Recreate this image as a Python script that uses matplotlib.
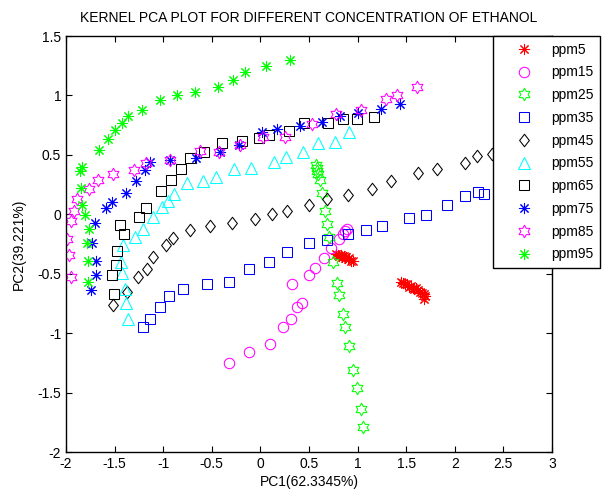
import matplotlib
matplotlib.use("Agg")
import matplotlib.pyplot as plt
import matplotlib.path as mpath
import numpy as np

plt.rcParams["font.family"] = ["Liberation Sans", "DejaVu Sans"]

# valors llegits de la figura original (PC1, PC2)
ppm5_x = [0.78, 0.80, 0.81, 0.83, 0.84, 0.86, 0.87, 0.88, 0.90, 0.91, 0.93, 0.95,
          1.45, 1.47, 1.49, 1.51, 1.53, 1.55, 1.57, 1.58, 1.60, 1.62, 1.64, 1.66,
          1.68, 1.69, 1.68]
ppm5_y = [-0.33, -0.34, -0.35, -0.34, -0.36, -0.35, -0.37, -0.36, -0.38, -0.37,
          -0.39, -0.39,
          -0.57, -0.58, -0.59, -0.59, -0.61, -0.60, -0.62, -0.63, -0.62, -0.64,
          -0.65, -0.66, -0.67, -0.69, -0.71]

ppm15_x = [-0.32, -0.12, 0.10, 0.23, 0.31, 0.38, 0.43, 0.32, 0.50, 0.56, 0.65,
           0.73, 0.81, 0.85, 0.87, 0.89]
ppm15_y = [-1.25, -1.16, -1.09, -0.95, -0.88, -0.78, -0.75, -0.59, -0.51, -0.45,
           -0.37, -0.28, -0.21, -0.17, -0.14, -0.12]

ppm25_x = [0.575, 0.58, 0.585, 0.59, 0.61, 0.63, 0.665, 0.69, 0.71, 0.75, 0.79,
           0.81, 0.85, 0.87, 0.91, 0.95, 0.99, 1.03, 1.06]
ppm25_y = [0.415, 0.39, 0.365, 0.335, 0.285, 0.18, 0.03, -0.085, -0.19, -0.40,
           -0.58, -0.68, -0.84, -0.95, -1.11, -1.31, -1.46, -1.64, -1.79]

ppm35_x = [-1.21, -1.14, -1.03, -0.94, -0.80, -0.55, -0.32, -0.12, 0.09, 0.27,
           0.50, 0.69, 0.90, 1.09, 1.25, 1.53, 1.70, 1.92, 2.10, 2.24, 2.30]
ppm35_y = [-0.95, -0.88, -0.78, -0.69, -0.63, -0.59, -0.57, -0.46, -0.40, -0.32,
           -0.24, -0.22, -0.17, -0.13, -0.10, -0.03, -0.01, 0.08, 0.15, 0.19, 0.17]

ppm45_x = [-1.52, -1.37, -1.26, -1.17, -1.10, -0.97, -0.90, -0.72, -0.52, -0.29,
           -0.06, 0.12, 0.27, 0.50, 0.69, 0.90, 1.15, 1.34, 1.62, 1.82, 2.10,
           2.23, 2.38]
ppm45_y = [-0.76, -0.65, -0.53, -0.46, -0.36, -0.26, -0.20, -0.13, -0.10, -0.07,
           -0.04, 0.00, 0.03, 0.08, 0.13, 0.16, 0.21, 0.28, 0.35, 0.38, 0.43,
           0.49, 0.51]

ppm55_x = [-1.36, -1.38, -1.39, -1.42, -1.43, -1.41, -1.29, -1.21, -1.11, -1.01,
           -0.95, -0.89, -0.76, -0.59, -0.46, -0.27, -0.10, 0.14, 0.26, 0.44,
           0.59, 0.77, 0.91]
ppm55_y = [-0.88, -0.75, -0.63, -0.49, -0.40, -0.26, -0.19, -0.12, -0.02, 0.06,
           0.11, 0.17, 0.26, 0.28, 0.31, 0.38, 0.39, 0.44, 0.48, 0.52, 0.60,
           0.61, 0.69]

ppm65_x = [-1.51, -1.53, -1.49, -1.48, -1.40, -1.44, -1.25, -1.18, -1.02, -0.92,
           -0.82, -0.72, -0.58, -0.40, -0.19, -0.01, 0.09, 0.29, 0.45, 0.70,
           0.85, 0.99, 1.17]
ppm65_y = [-0.67, -0.51, -0.43, -0.31, -0.17, -0.09, -0.02, 0.05, 0.20, 0.29,
           0.38, 0.47, 0.52, 0.60, 0.62, 0.64, 0.67, 0.70, 0.77, 0.77, 0.80,
           0.80, 0.82]

ppm75_x = [-1.74, -1.69, -1.69, -1.73, -1.70, -1.59, -1.53, -1.38, -1.28, -1.19,
           -1.14, -0.93, -0.66, -0.42, -0.22, 0.02, 0.17, 0.41, 0.63, 0.82,
           1.00, 1.24, 1.44]
ppm75_y = [-0.64, -0.51, -0.39, -0.24, -0.07, 0.05, 0.10, 0.18, 0.28, 0.37,
           0.44, 0.46, 0.47, 0.52, 0.58, 0.69, 0.72, 0.74, 0.78, 0.83, 0.85,
           0.89, 0.93]

ppm85_x = [-1.95, -1.97, -1.99, -1.95, -1.92, -1.89, -1.76, -1.67, -1.52, -1.30,
           -1.18, -0.93, -0.62, -0.43, -0.21, 0.03, 0.25, 0.53, 0.78, 1.04,
           1.29, 1.41, 1.61]
ppm85_y = [-0.53, -0.34, -0.21, -0.06, 0.03, 0.13, 0.21, 0.29, 0.34, 0.37,
           0.43, 0.46, 0.53, 0.52, 0.58, 0.65, 0.65, 0.76, 0.84, 0.88, 0.97,
           1.00, 1.07]

ppm95_x = [-1.77, -1.77, -1.78, -1.76, -1.80, -1.84, -1.85, -1.86, -1.84, -1.66,
           -1.57, -1.50, -1.42, -1.36, -1.22, -1.03, -0.86, -0.67, -0.44, -0.28,
           -0.16, 0.06, 0.30]
ppm95_y = [-0.57, -0.39, -0.24, -0.12, -0.01, 0.08, 0.22, 0.36, 0.40, 0.54,
           0.63, 0.71, 0.77, 0.83, 0.88, 0.96, 1.00, 1.03, 1.07, 1.13, 1.20,
           1.25, 1.30]

series_names = ["ppm5", "ppm15", "ppm25", "ppm35", "ppm45",
                "ppm55", "ppm65", "ppm75", "ppm85", "ppm95"]

x_ticks = [-2, -1.5, -1, -0.5, 0, 0.5, 1, 1.5, 2, 2.5, 3]
y_ticks = [-2, -1.5, -1, -0.5, 0, 0.5, 1, 1.5]

# hexagrama (estrella de sis puntes) i rombe com a MATLAB
angles = np.deg2rad(np.arange(12) * 30 + 90)
radii = np.tile([1.0, 0.577], 6)
verts = np.column_stack([radii * np.cos(angles), radii * np.sin(angles)])
hexagram = mpath.Path(np.vstack([verts, verts[:1]]), closed=True)
diamond = mpath.Path([(0, 1), (0.78, 0), (0, -1), (-0.78, 0), (0, 1)], closed=True)
asterisk = (8, 2, 0)

series = [
    (ppm5_x, ppm5_y, "#ff0000", asterisk, 8),
    (ppm15_x, ppm15_y, "#ff00ff", "o", 7.5),
    (ppm25_x, ppm25_y, "#00ff00", hexagram, 9),
    (ppm35_x, ppm35_y, "#0000ff", "s", 7.5),
    (ppm45_x, ppm45_y, "#000000", diamond, 9),
    (ppm55_x, ppm55_y, "#00ffff", "^", 9),
    (ppm65_x, ppm65_y, "#000000", "s", 7.5),
    (ppm75_x, ppm75_y, "#0000ff", asterisk, 8),
    (ppm85_x, ppm85_y, "#ff00ff", hexagram, 9),
    (ppm95_x, ppm95_y, "#00ff00", asterisk, 8),
]

fig = plt.figure(figsize=(6.10, 4.93), dpi=100)
ax = fig.add_axes([66 / 610, 1 - 452 / 493, (552 - 66) / 610, (452 - 36) / 493])

for (xs, ys, color, marker, size), name in zip(series, series_names):
    ax.plot(xs, ys, linestyle="none", marker=marker, markersize=size,
            markerfacecolor="none", markeredgecolor=color,
            markeredgewidth=0.75, label=name)

ax.set_xlim(-2, 3)
ax.set_ylim(-2, 1.5)
ax.set_xticks(x_ticks)
ax.set_yticks(y_ticks)
ax.set_xticklabels([f"{t:g}" for t in x_ticks])
ax.set_yticklabels([f"{t:g}" for t in y_ticks])
ax.tick_params(direction="in", top=True, right=True, length=4,
               labelsize=10, width=0.8)
for spine in ax.spines.values():
    spine.set_linewidth(1.0)

ax.set_title("KERNEL PCA PLOT FOR DIFFERENT CONCENTRATION OF ETHANOL",
             fontsize=10, pad=10)
ax.set_xlabel("PC1(62.3345%)", fontsize=10, labelpad=3)
ax.set_ylabel("PC2(39.221%)", fontsize=10, labelpad=8)

leg = ax.legend(loc="upper left", bbox_to_anchor=(492.7 / 610, 1 - 35.7 / 493),
                bbox_transform=fig.transFigure, fontsize=10, frameon=True,
                fancybox=False, edgecolor="black", framealpha=1,
                borderaxespad=0, borderpad=0.5, labelspacing=0.63,
                handlelength=3.5, handletextpad=0.2)
leg.get_frame().set_linewidth(1.0)

fig.savefig("out.png", dpi=100)
